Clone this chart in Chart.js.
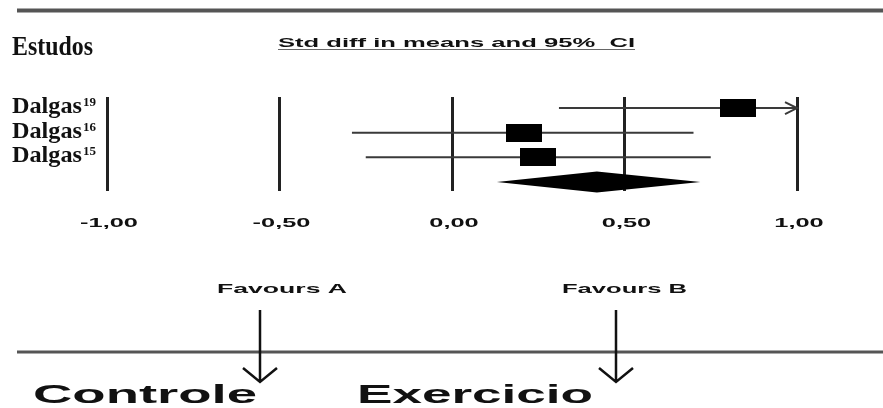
<!DOCTYPE html>
<html>
<head>
<meta charset="utf-8">
<script src="https://cdn.jsdelivr.net/npm/chart.js@4"></script>
<style>
  html, body { margin: 0; padding: 0; background: #fff; }
</style>
</head>
<body>
<canvas id="myChart" width="883" height="408"></canvas>
<script>
// forest plot data
const studies = ['Dalgas', 'Dalgas', 'Dalgas'];
const refs = ['19', '16', '15'];
const effect = [0.83, 0.21, 0.25];
const lower = [0.31, -0.29, -0.25];
const upper = [1.00, 0.70, 0.75];
const truncated = [true, false, false];   // CI runs off the axis -> arrow
const pooled = [0.13, 0.42, 0.72];         // lower, estimate, upper
const tickValues = [-1, -0.5, 0, 0.5, 1];
const tickLabels = ['-1,00', '-0,50', '0,00', '0,50', '1,00'];

// black box used as point style
const boxImg = document.createElement('canvas');
boxImg.width = 36;
boxImg.height = 18;
const bctx = boxImg.getContext('2d');
bctx.fillStyle = '#000';
bctx.fillRect(0, 0, 36, 18);

// draw text squeezed/stretched horizontally to a given width
function stretchText(ctx, text, x, y, font, width, align) {
    ctx.save();
    ctx.font = font;
    ctx.textAlign = 'left';
    ctx.textBaseline = 'alphabetic';
    const w = ctx.measureText(text).width;
    const sx = width / w;
    const left = align === 'center' ? x - width / 2 : x;
    ctx.translate(left, y);
    ctx.scale(sx, 1);
    ctx.fillText(text, 0, 0);
    ctx.restore();
}

function arrowDown(ctx, x, y1, y2) {
    ctx.beginPath();
    ctx.moveTo(x, y1);
    ctx.lineTo(x, y2);
    ctx.moveTo(x - 17, y2 - 14);
    ctx.lineTo(x, y2);
    ctx.lineTo(x + 17, y2 - 14);
    ctx.stroke();
}

const forestPlugin = {
    id: 'forest',
    afterDatasetsDraw(chart) {
        const ctx = chart.ctx;
        const x = chart.scales.x;
        const y = chart.scales.y;

        // pooled diamond
        const yp = y.getPixelForValue(3);
        ctx.save();
        ctx.fillStyle = '#000';
        ctx.beginPath();
        ctx.moveTo(x.getPixelForValue(pooled[0]), yp);
        ctx.lineTo(x.getPixelForValue(pooled[1]), yp - 10.5);
        ctx.lineTo(x.getPixelForValue(pooled[2]), yp);
        ctx.lineTo(x.getPixelForValue(pooled[1]), yp + 10.5);
        ctx.closePath();
        ctx.fill();

        // arrow heads for truncated intervals
        ctx.strokeStyle = '#3a3a3a';
        ctx.lineWidth = 2;
        truncated.forEach((t, i) => {
            if (!t) return;
            const px = x.getPixelForValue(upper[i]);
            const py = y.getPixelForValue(i);
            ctx.beginPath();
            ctx.moveTo(px - 12, py - 6);
            ctx.lineTo(px, py);
            ctx.lineTo(px - 12, py + 6);
            ctx.stroke();
        });
        ctx.restore();
    },
    afterDraw(chart) {
        const ctx = chart.ctx;
        const x = chart.scales.x;
        const y = chart.scales.y;
        ctx.save();
        ctx.fillStyle = '#111';

        // top and bottom rules
        ctx.strokeStyle = '#555';
        ctx.lineWidth = 4;
        ctx.beginPath();
        ctx.moveTo(17, 10.5);
        ctx.lineTo(883, 10.5);
        ctx.stroke();
        ctx.lineWidth = 3;
        ctx.beginPath();
        ctx.moveTo(17, 352);
        ctx.lineTo(883, 352);
        ctx.stroke();

        // headers
        stretchText(ctx, 'Estudos', 12, 55, 'bold 27px "Liberation Serif"', 81);
        stretchText(ctx, 'Std diff in means and 95%  CI', 278, 47, 'bold 13px "Liberation Sans"', 357);
        ctx.strokeStyle = '#666';
        ctx.lineWidth = 1;
        ctx.beginPath();
        ctx.moveTo(278, 49.5);
        ctx.lineTo(635, 49.5);
        ctx.stroke();

        // study labels
        studies.forEach((s, i) => {
            const py = y.getPixelForValue(i);
            stretchText(ctx, s, 12, py + 5, 'bold 24px "Liberation Serif"', 70);
            stretchText(ctx, refs[i], 83, py - 2, 'bold 13px "Liberation Serif"', 13);
        });

        // x tick labels
        tickValues.forEach((v, i) => {
            const px = x.getPixelForValue(v);
            ctx.font = 'bold 13px "Liberation Sans"';
            const w = ctx.measureText(tickLabels[i]).width * 1.95;
            stretchText(ctx, tickLabels[i], px + 2, 227, 'bold 13px "Liberation Sans"', w, 'center');
        });

        // favours labels and arrows
        stretchText(ctx, 'Favours A', 217, 293, 'bold 12px "Liberation Sans"', 130);
        stretchText(ctx, 'Favours B', 562, 293, 'bold 12px "Liberation Sans"', 125);
        ctx.strokeStyle = '#111';
        ctx.lineWidth = 2.5;
        arrowDown(ctx, 260, 310, 382);
        arrowDown(ctx, 616, 310, 382);

        stretchText(ctx, 'Controle', 33, 403, 'bold 25px "Liberation Sans"', 224);
        stretchText(ctx, 'Exercicio', 357, 403, 'bold 25px "Liberation Sans"', 236);
        ctx.restore();
    }
};

const ciSets = studies.map((s, i) => ({
    label: s + refs[i],
    data: [{ x: lower[i], y: i }, { x: upper[i], y: i }],
    showLine: true,
    borderColor: '#3a3a3a',
    borderWidth: 2,
    pointRadius: 0
}));

const config = {
    type: 'scatter',
    data: {
        datasets: [{
            label: 'Std diff in means',
            data: effect.map((v, i) => ({ x: v, y: i })),
            pointStyle: boxImg,
            pointRadius: 9
        }].concat(ciSets)
    },
    options: {
        responsive: false,
        animation: false,
        devicePixelRatio: 1,
        layout: {
            padding: { left: 107, right: 86, top: 97, bottom: 217 }
        },
        plugins: {
            legend: { display: false },
            tooltip: { enabled: false }
        },
        scales: {
            x: {
                type: 'linear',
                min: -1,
                max: 1,
                afterBuildTicks: (scale) => {
                    scale.ticks = tickValues.map(v => ({ value: v }));
                },
                ticks: { display: false },
                grid: { color: '#222', lineWidth: 3, drawTicks: false },
                border: { display: false }
            },
            y: {
                type: 'linear',
                min: -0.45,
                max: 3.37,
                reverse: true,
                display: false
            }
        }
    },
    plugins: [forestPlugin]
};

const myChart = new Chart(document.getElementById('myChart'), config);
</script>
</body>
</html>
